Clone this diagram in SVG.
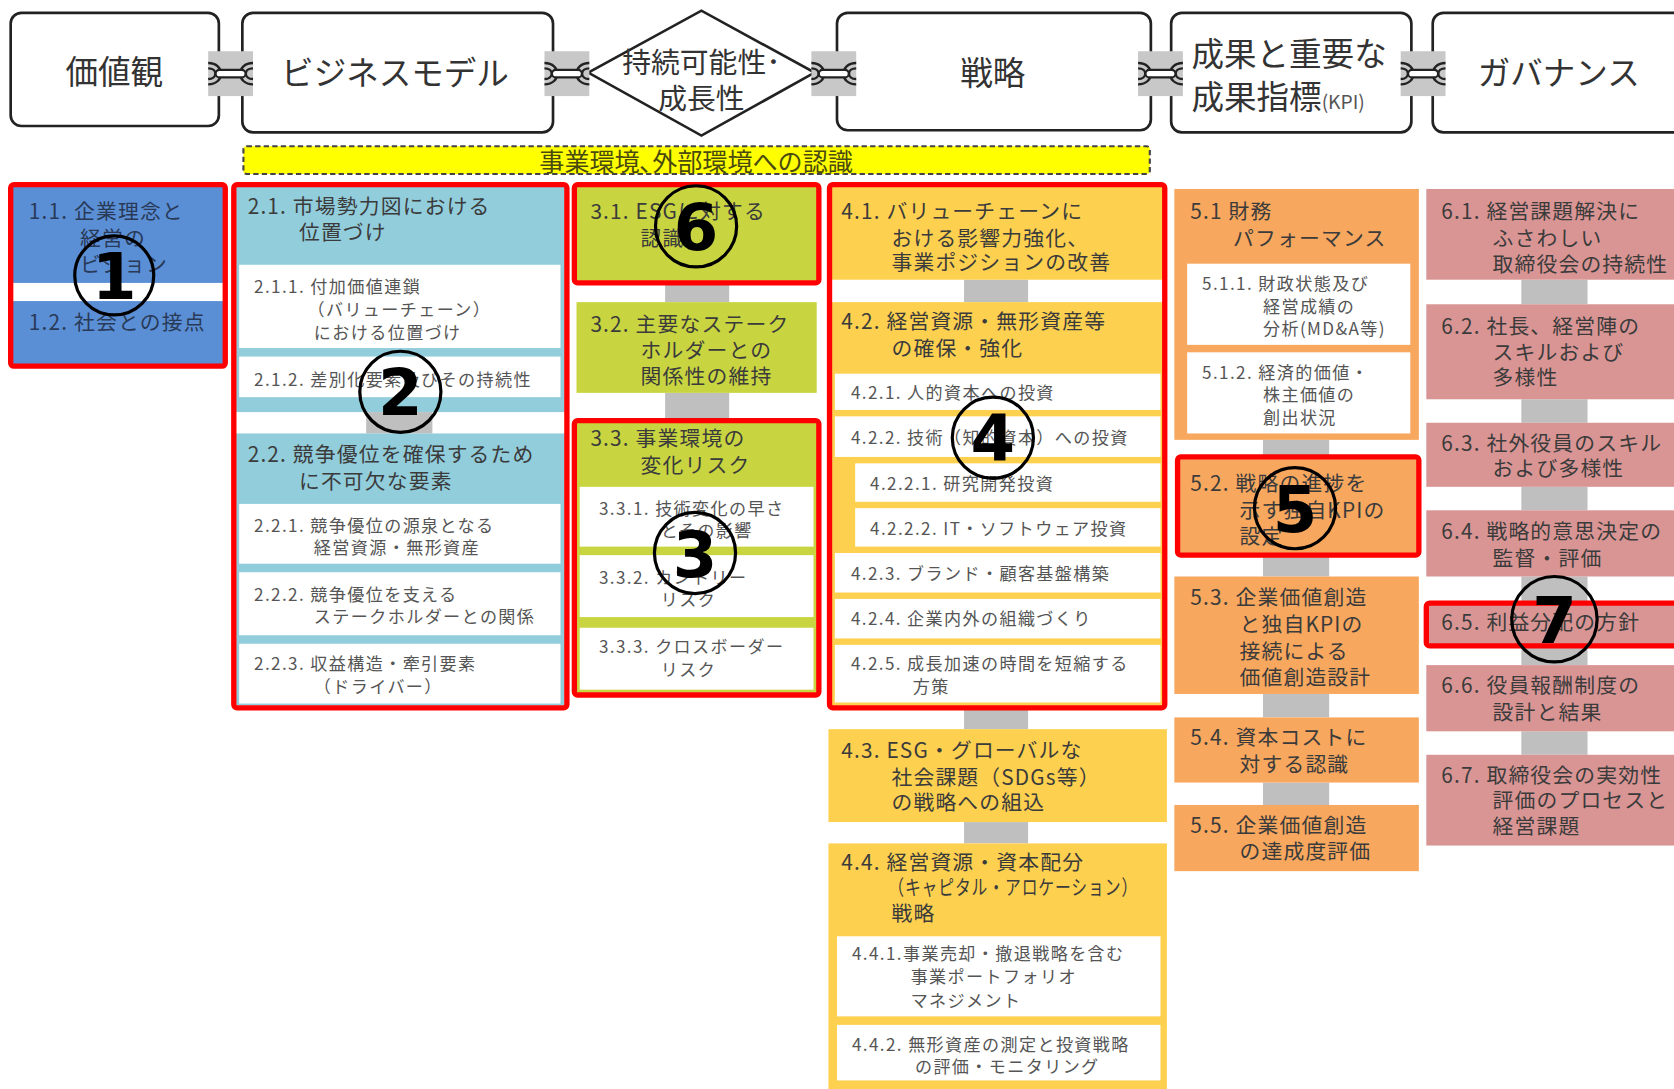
<svg xmlns="http://www.w3.org/2000/svg" width="1674" height="1089" viewBox="0 0 1674 1089">
<defs>
<style>
text{font-family:"Noto Sans CJK JP","Noto Sans CJK SC",sans-serif}
.tb{fill:#fff;stroke:#222;stroke-width:2.5}
.tt{font-size:30.5px;fill:#333}
.h{font-size:19.5px;fill:#3b3b3b;letter-spacing:1.1px}
.hb{font-size:19.5px;fill:#283a58;letter-spacing:1.1px}
.s{font-size:16px;fill:#555;letter-spacing:1.3px}
.red{fill:none;stroke:#FF0000;stroke-width:5}
.gc{fill:#BFBFBF}
.w{fill:#fff}
.bl{fill:#5B8FD5}
.lb{fill:#92CDDC}
.gr{fill:#C9D540}
.yl{fill:#FDD050}
.or{fill:#F7A75E}
.pk{fill:#D99594}
.circ{fill:none;stroke:#000;stroke-width:3}
.num{font-family:"DejaVu Sans",sans-serif;font-weight:bold;font-size:60px;fill:#000;text-anchor:middle}
.mid{text-anchor:middle}
</style>
<g id="chain">
<rect x="-21" y="-21" width="42" height="42" fill="#C8C8C8"/>
<path d="M-21,-10 C-5,-10 -5,10 -21,10 M-21,-5 C-12,-5 -12,5 -21,5 M21,-10 C5,-10 5,10 21,10 M21,-5 C12,-5 12,5 21,5" fill="none" stroke="#222" stroke-width="2.2"/>
<rect x="-14" y="-3.5" width="28" height="7" rx="3.5" fill="#fff" stroke="#222" stroke-width="2"/>
</g>
</defs>
<rect width="1674" height="1089" fill="#fff"/>
<g transform="scale(1.0676)">

<!-- top row nodes -->
<g id="kachikan"><rect class="tb" x="10" y="12" width="195" height="106" rx="10"/><text class="tt mid" x="107" y="79">価値観</text></g>
<g id="business-model"><rect class="tb" x="227" y="12" width="291" height="112" rx="10"/><text class="tt mid" x="370" y="80">ビジネスモデル</text></g>
<g id="sustainability"><polygon class="tb" points="551,68 657,10 763,68 657,127"/><text class="tt mid" x="657" y="68" style="font-size:27px">持続可能性･</text><text class="tt mid" x="657" y="102" style="font-size:27px">成長性</text></g>
<g id="strategy"><rect class="tb" x="784" y="12" width="294" height="110" rx="10"/><text class="tt mid" x="930" y="80">戦略</text></g>
<g id="kpi"><rect class="tb" x="1097" y="12" width="225" height="112" rx="10"/><text class="tt" x="1116" y="62">成果と重要な</text><text class="tt" x="1116" y="102">成果指標<tspan style="font-size:18px;fill:#555">(KPI)</tspan></text></g>
<g id="governance"><rect class="tb" x="1342" y="12" width="260" height="112" rx="10"/><text class="tt mid" x="1460" y="80">ガバナンス</text></g>

<g id="environment"><rect x="228" y="137" width="849" height="26" rx="3" fill="#FFFF00" stroke="#444" stroke-width="2" stroke-dasharray="5,3"/><text class="mid" x="652" y="160" style="font-size:23.5px;fill:#4a4a10">事業環境､外部環境への認識</text></g>

<!-- connectors -->
<g id="connectors">
<use href="#chain" x="216" y="69"/>
<use href="#chain" x="531" y="69"/>
<use href="#chain" x="781" y="69"/>
<use href="#chain" x="1087" y="69"/>
<use href="#chain" x="1333" y="69"/>
<rect class="gc" x="343" y="386" width="62" height="20"/>
<rect class="gc" x="623" y="265" width="60" height="18"/>
<rect class="gc" x="623" y="368" width="60" height="26"/>
<rect class="gc" x="903" y="262" width="60" height="21"/>
<rect class="gc" x="903" y="663" width="60" height="20"/>
<rect class="gc" x="903" y="770" width="60" height="20"/>
<rect class="gc" x="1183" y="412" width="62" height="16"/>
<rect class="gc" x="1183" y="520" width="62" height="20"/>
<rect class="gc" x="1183" y="650" width="62" height="22"/>
<rect class="gc" x="1183" y="733" width="62" height="21"/>
<rect class="gc" x="1425" y="262" width="62" height="23"/>
<rect class="gc" x="1425" y="374" width="62" height="22"/>
<rect class="gc" x="1425" y="456" width="62" height="22"/>
<rect class="gc" x="1425" y="540" width="62" height="25"/>
<rect class="gc" x="1425" y="605" width="62" height="18"/>
<rect class="gc" x="1425" y="685" width="62" height="22"/>
</g>

<!-- column 1 -->
<g id="n1-1"><rect class="bl" x="12" y="175" width="197" height="90"/><text class="hb" x="27" y="205">1.1. 企業理念と</text><text class="hb" x="75" y="230">経営の</text><text class="hb" x="75" y="255">ビジョン</text></g>
<g id="n1-2"><rect class="bl" x="12" y="282" width="197" height="59"/><text class="hb" x="27" y="309">1.2. 社会との接点</text></g>
<g id="mark1"><rect class="red" x="10" y="173" width="201" height="170" rx="3"/><circle class="circ" cx="107" cy="258" r="37"/><text class="num" x="107" y="280">1</text></g>

<!-- column 2 -->
<g id="n2-1"><rect class="lb" x="221" y="175" width="308" height="211"/>
<text class="h" x="232" y="200">2.1. 市場勢力図における</text><text class="h" x="280" y="225">位置づけ</text>
<rect class="w" x="224" y="248" width="301" height="78"/>
<text class="s" x="238" y="274">2.1.1. 付加価値連鎖</text><text class="s" x="288" y="296">（バリューチェーン）</text><text class="s" x="294" y="318">における位置づけ</text>
<rect class="w" x="224" y="334" width="301" height="38"/>
<text class="s" x="238" y="362">2.1.2. 差別化要素及びその持続性</text></g>
<g id="n2-2"><rect class="lb" x="221" y="406" width="308" height="255"/>
<text class="h" x="232" y="433">2.2. 競争優位を確保するため</text><text class="h" x="280" y="458">に不可欠な要素</text>
<rect class="w" x="224" y="472" width="301" height="56"/>
<text class="s" x="238" y="498">2.2.1. 競争優位の源泉となる</text><text class="s" x="294" y="519">経営資源・無形資産</text>
<rect class="w" x="224" y="536" width="301" height="59"/>
<text class="s" x="238" y="563">2.2.2. 競争優位を支える</text><text class="s" x="294" y="584">ステークホルダーとの関係</text>
<rect class="w" x="224" y="603" width="301" height="56"/>
<text class="s" x="238" y="628">2.2.3. 収益構造・牽引要素</text><text class="s" x="294" y="649">（ドライバー）</text></g>
<g id="mark2"><rect class="red" x="219" y="173" width="312" height="490" rx="3"/><circle class="circ" cx="375" cy="367" r="38"/><text class="num" x="375" y="389">2</text></g>

<!-- column 3 -->
<g id="n3-1"><rect class="gr" x="540" y="175" width="225" height="88"/><text class="h" x="553" y="205">3.1. ESGに対する</text><text class="h" x="600" y="230">認識</text></g>
<g id="mark6"><rect class="red" x="538" y="173" width="229" height="92" rx="3"/><circle class="circ" cx="652" cy="212" r="38"/><text class="num" x="652" y="234">6</text></g>
<g id="n3-2"><rect class="gr" x="540" y="283" width="225" height="85"/><text class="h" x="553" y="311">3.2. 主要なステーク</text><text class="h" x="600" y="335">ホルダーとの</text><text class="h" x="600" y="360">関係性の維持</text></g>
<g id="n3-3"><rect class="gr" x="540" y="396" width="225" height="253"/>
<text class="h" x="553" y="418">3.3. 事業環境の</text><text class="h" x="600" y="443">変化リスク</text>
<rect class="w" x="543" y="456" width="219" height="56"/>
<text class="s" x="561" y="482">3.3.1. 技術変化の早さ</text><text class="s" x="619" y="503">とその影響</text>
<rect class="w" x="543" y="520" width="219" height="58"/>
<text class="s" x="561" y="547">3.3.2. カントリー</text><text class="s" x="619" y="568">リスク</text>
<rect class="w" x="543" y="588" width="219" height="58"/>
<text class="s" x="561" y="612">3.3.3. クロスボーダー</text><text class="s" x="619" y="633">リスク</text></g>
<g id="mark3"><rect class="red" x="538" y="394" width="229" height="257" rx="3"/><circle class="circ" cx="651" cy="518" r="38"/><text class="num" x="651" y="540">3</text></g>

<!-- column 4 -->
<g id="n4-1"><rect class="yl" x="779" y="175" width="310" height="87"/><text class="h" x="788" y="205">4.1. バリューチェーンに</text><text class="h" x="835" y="230">おける影響力強化、</text><text class="h" x="835" y="253">事業ポジションの改善</text></g>
<g id="n4-2"><rect class="yl" x="779" y="283" width="310" height="378"/>
<text class="h" x="788" y="308">4.2. 経営資源・無形資産等</text><text class="h" x="835" y="333">の確保・強化</text>
<rect class="w" x="782" y="350" width="305" height="34"/><text class="s" x="797" y="374">4.2.1. 人的資本への投資</text>
<rect class="w" x="782" y="390" width="305" height="38"/><text class="s" x="797" y="416">4.2.2. 技術（知的資本）への投資</text>
<rect class="w" x="801" y="434" width="286" height="36"/><text class="s" x="815" y="459">4.2.2.1. 研究開発投資</text>
<rect class="w" x="801" y="476" width="286" height="36"/><text class="s" x="815" y="501">4.2.2.2. IT・ソフトウェア投資</text>
<rect class="w" x="782" y="518" width="305" height="37"/><text class="s" x="797" y="543">4.2.3. ブランド・顧客基盤構築</text>
<rect class="w" x="782" y="561" width="305" height="37"/><text class="s" x="797" y="585">4.2.4. 企業内外の組織づくり</text>
<rect class="w" x="782" y="604" width="305" height="54"/><text class="s" x="797" y="628">4.2.5. 成長加速の時間を短縮する</text><text class="s" x="855" y="649">方策</text></g>
<g id="mark4"><rect class="red" x="777" y="173" width="314" height="490" rx="3"/><circle class="circ" cx="930" cy="410" r="38"/><text class="num" x="930" y="432">4</text></g>
<g id="n4-3"><rect class="yl" x="776" y="683" width="317" height="87"/><text class="h" x="788" y="710">4.3. ESG・グローバルな</text><text class="h" x="835" y="735">社会課題（SDGs等）</text><text class="h" x="835" y="759">の戦略への組込</text></g>
<g id="n4-4"><rect class="yl" x="776" y="790" width="317" height="240"/>
<text class="h" x="788" y="815">4.4. 経営資源・資本配分</text><text class="h" x="832" y="838" textLength="234" lengthAdjust="spacingAndGlyphs">（キャピタル・アロケーション）</text><text class="h" x="835" y="863">戦略</text>
<rect class="w" x="784" y="877" width="303" height="75"/>
<text class="s" x="798" y="899">4.4.1.事業売却・撤退戦略を含む</text><text class="s" x="853" y="921">事業ポートフォリオ</text><text class="s" x="853" y="943">マネジメント</text>
<rect class="w" x="784" y="960" width="303" height="52"/>
<text class="s" x="798" y="984">4.4.2. 無形資産の測定と投資戦略</text><text class="s" x="857" y="1005">の評価・モニタリング</text></g>

<!-- column 5 -->
<g id="n5-1"><rect class="or" x="1100" y="177" width="229" height="235"/>
<text class="h" x="1115" y="205">5.1 財務</text><text class="h" x="1155" y="230">パフォーマンス</text>
<rect class="w" x="1112" y="247" width="209" height="76"/>
<text class="s" x="1126" y="272">5.1.1. 財政状態及び</text><text class="s" x="1183" y="293">経営成績の</text><text class="s" x="1183" y="314">分析(MD&amp;A等)</text>
<rect class="w" x="1112" y="330" width="209" height="76"/>
<text class="s" x="1126" y="355">5.1.2. 経済的価値・</text><text class="s" x="1183" y="376">株主価値の</text><text class="s" x="1183" y="397">創出状況</text></g>
<g id="n5-2"><rect class="or" x="1105" y="430" width="222" height="88"/><text class="h" x="1115" y="460">5.2. 戦略の進捗を</text><text class="h" x="1161" y="485">示す独自KPIの</text><text class="h" x="1161" y="510">設定</text></g>
<g id="mark5"><rect class="red" x="1103" y="428" width="226" height="92" rx="3"/><circle class="circ" cx="1213" cy="476" r="38"/><text class="num" x="1213" y="498">5</text></g>
<g id="n5-3"><rect class="or" x="1100" y="540" width="229" height="110"/><text class="h" x="1115" y="567">5.3. 企業価値創造</text><text class="h" x="1161" y="592">と独自KPIの</text><text class="h" x="1161" y="617">接続による</text><text class="h" x="1161" y="642">価値創造設計</text></g>
<g id="n5-4"><rect class="or" x="1100" y="672" width="229" height="61"/><text class="h" x="1115" y="698">5.4. 資本コストに</text><text class="h" x="1161" y="723">対する認識</text></g>
<g id="n5-5"><rect class="or" x="1100" y="754" width="229" height="62"/><text class="h" x="1115" y="780">5.5. 企業価値創造</text><text class="h" x="1161" y="805">の達成度評価</text></g>

<!-- column 6 -->
<g id="n6-1"><rect class="pk" x="1336" y="177" width="250" height="85"/><text class="h" x="1350" y="205">6.1. 経営課題解決に</text><text class="h" x="1398" y="230">ふさわしい</text><text class="h" x="1398" y="255">取締役会の持続性</text></g>
<g id="n6-2"><rect class="pk" x="1336" y="285" width="250" height="89"/><text class="h" x="1350" y="313">6.2. 社長、経営陣の</text><text class="h" x="1398" y="337">スキルおよび</text><text class="h" x="1398" y="361">多様性</text></g>
<g id="n6-3"><rect class="pk" x="1336" y="396" width="250" height="60"/><text class="h" x="1350" y="422">6.3. 社外役員のスキル</text><text class="h" x="1398" y="446">および多様性</text></g>
<g id="n6-4"><rect class="pk" x="1336" y="478" width="250" height="62"/><text class="h" x="1350" y="505">6.4. 戦略的意思決定の</text><text class="h" x="1398" y="530">監督・評価</text></g>
<g id="n6-5"><rect class="pk" x="1336" y="565" width="250" height="40"/><text class="h" x="1350" y="590">6.5. 利益分配の方針</text></g>
<g id="mark7"><rect class="red" x="1336" y="565" width="250" height="40" rx="3"/><circle class="circ" cx="1456" cy="580" r="40"/><text class="num" x="1456" y="602">7</text></g>
<g id="n6-6"><rect class="pk" x="1336" y="623" width="250" height="62"/><text class="h" x="1350" y="649">6.6. 役員報酬制度の</text><text class="h" x="1398" y="674">設計と結果</text></g>
<g id="n6-7"><rect class="pk" x="1336" y="707" width="250" height="85"/><text class="h" x="1350" y="733">6.7. 取締役会の実効性</text><text class="h" x="1398" y="757">評価のプロセスと</text><text class="h" x="1398" y="781">経営課題</text></g>
</g>
</svg>
